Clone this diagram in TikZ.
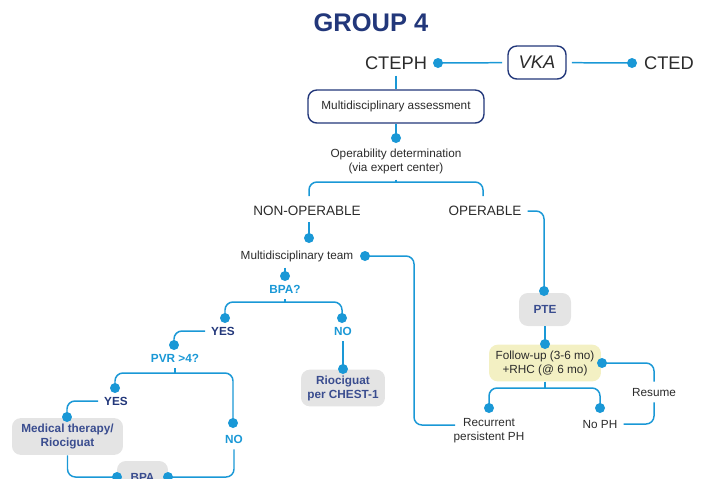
\documentclass[tikz,border=0pt]{standalone}
\usepackage{fontspec}
\setmainfont{Liberation Sans}
\definecolor{navy}{HTML}{22377A}
\definecolor{boxnavy}{HTML}{3A4D8F}
\definecolor{lineblue}{HTML}{1A98D6}
\definecolor{boxgrey}{HTML}{E4E4E4}
\definecolor{boxyellow}{HTML}{F3F0C3}
\definecolor{ink}{HTML}{2B2B2B}
\tikzset{
  conn/.style={draw=lineblue,line width=0.85pt,rounded corners=4.5pt},
  dot/.style={circle,fill=lineblue,inner sep=0pt,minimum size=0.2cm},
  small/.style={font=\fontsize{6.7}{8}\selectfont,text=ink,align=center},
  big/.style={font=\fontsize{10.4}{12}\selectfont,text=ink},
  mid/.style={font=\fontsize{7.7}{9}\selectfont,text=ink},
  heading/.style={font=\fontsize{14.5}{16}\selectfont\bfseries,text=navy},
  ask/.style={font=\fontsize{6.7}{8}\selectfont\bfseries,text=lineblue},
  yes/.style={font=\fontsize{6.7}{8}\selectfont\bfseries,text=navy},
  outlinebox/.style={small,draw=navy,line width=0.8pt,rounded corners=5pt,fill=white},
  greybox/.style={font=\fontsize{6.7}{8}\selectfont\bfseries,text=boxnavy,align=center,fill=boxgrey,rounded corners=5pt},
  yellowbox/.style={small,fill=boxyellow,rounded corners=5pt}
}
\begin{document}
\begin{tikzpicture}[x=0.02cm,y=-0.02cm]
\useasboundingbox (0,0) rectangle (703,478);
\clip (0,0) rectangle (703,478);

% top row
\node[heading] (group) at (371,23) {GROUP 4};
\node[big] (cteph) at (396,63) {CTEPH};
\node[outlinebox,font=\fontsize{10.4}{12}\selectfont\itshape,minimum width=1.16cm,minimum height=0.66cm,outer sep=3.4pt] (vka) at (537,62.5) {VKA};
\node[big] (cted) at (669,63) {CTED};
\node[outlinebox,minimum width=3.52cm,minimum height=0.66cm] (assess) at (396,106.5) {Multidisciplinary assessment};
\node[small] (operab) at (396,161) {Operability determination\\(via expert center)};
\node[mid] (nonop) at (307,211) {NON-OPERABLE};
\node[mid] (oper) at (485,211) {OPERABLE};

% non-operable branch
\node[small] (mdt) at (297,256) {Multidisciplinary team};
\node[ask] (bpa) at (285,289) {BPA?};
\node[yes] (yes1) at (223,331) {YES};
\node[ask] (no1) at (343,331) {NO};
\node[greybox,minimum width=1.68cm,minimum height=0.72cm] (rioc) at (343,388) {Riociguat\\per CHEST-1};
\node[ask] (pvr) at (175,358) {PVR >4?};
\node[yes] (yes2) at (116,401) {YES};
\node[ask] (no2) at (234,439) {NO};
\node[greybox,minimum width=2.22cm,minimum height=0.7cm] (med) at (67.5,436.5) {Medical therapy/\\Riociguat};
\node[greybox,minimum width=1.02cm,minimum height=0.66cm] (bpabox) at (142.5,477.5) {BPA};

% operable branch
\node[greybox,minimum width=1.04cm,minimum height=0.66cm] (pte) at (545,309.5) {PTE};
\node[yellowbox,minimum width=2.24cm,minimum height=0.72cm] (follow) at (545,363) {Follow-up (3-6 mo)\\+RHC (@ 6 mo)};
\node[small] (resume) at (654,392) {Resume};
\node[small] (recur) at (489,431) {Recurrent\\persistent PH};
\node[small] (noph) at (600,424) {No PH};

% junctions
\coordinate (opJ) at (396,182);
\coordinate (opL) at (309,196);
\coordinate (opR) at (483,196);
\coordinate (bpaJ) at (285,302);
\coordinate (pvrJ) at (175,373);
\coordinate (followJ) at (545,388);
\coordinate (recurIn) at (455,425);

\foreach \n/\x/\y in {ctephdot/438/63, cteddot/632/63, assessdot/396/138,
  nonopdot/309/238, mdtdot/365/256, mdtbpadot/285/276, yesonedot/225/318,
  noonedot/342/318, riocdot/343/369, pvrdot/174/345, yestwodot/115/388,
  notwodot/233/423, meddot/67/417, bpaleftdot/117/477, bparightdot/168/477,
  ptedot/544/291, followdot/545/344, resumedot/602/363, recurdot/489/408,
  nophdot/600/408}
  \coordinate (\n) at (\x,\y);

% connectors
\draw[conn] (ctephdot) -- (vka);
\draw[conn] (vka) -- (cteddot);
\draw[conn] (cteph.south) -- (assess.north);
\draw[conn] (assess) -- (assessdot);
\draw[conn] (operab) -- (opJ);
\draw[conn] (opL) |- (opJ) -| (opR);
\draw[conn] (nonopdot |- nonop.south) -- (nonopdot);
\draw[conn] (mdtdot) -| (414,425) -- (recurIn);
\draw[conn] (mdtbpadot |- mdt.south) -- (mdtbpadot);
\draw[conn] (bpa) -- (bpaJ);
\draw[conn] (yesonedot) |- (bpaJ) -| (noonedot);
\draw[conn] (no1.south) -- (riocdot);
\draw[conn] (yes1.west) -| (pvrdot);
\draw[conn] (pvr) -- (pvrJ);
\draw[conn] (yestwodot) |- (pvrJ) -| (notwodot);
\draw[conn] (yes2.west) -| (meddot);
\draw[conn] (med.south) |- (bpaleftdot);
\draw[conn] (no2.south) |- (bparightdot);
\draw[conn] (oper.east) -| (ptedot);
\draw[conn] (pte) -- (followdot);
\draw[conn] (follow) -- (followJ);
\draw[conn] (recurdot) |- (followJ) -| (nophdot);
\draw[conn] (resumedot) -| (resume.north);
\draw[conn] (resume.south) |- (noph.east);

% dots
\foreach \n in {ctephdot, cteddot, assessdot, nonopdot, mdtdot, mdtbpadot,
  yesonedot, noonedot, riocdot, pvrdot, yestwodot, notwodot, meddot,
  bpaleftdot, bparightdot, ptedot, followdot, resumedot, recurdot, nophdot}
  \node[dot] at (\n) {};
\end{tikzpicture}
\end{document}
